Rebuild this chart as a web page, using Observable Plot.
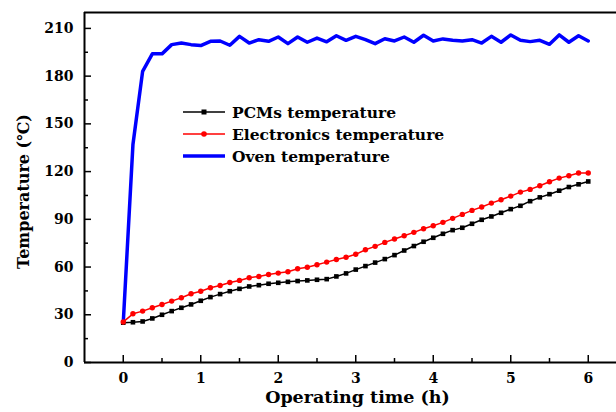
<!DOCTYPE html>
<html><head><meta charset="utf-8">
<script src="https://cdn.jsdelivr.net/npm/d3@7"></script>
<script src="https://cdn.jsdelivr.net/npm/@observablehq/plot@0.6"></script>
<style>
body{margin:0;background:#fff;}
#wrap{position:relative;width:616px;height:412px;overflow:hidden;}
#legend{position:absolute;left:183px;top:101px;font-family:"DejaVu Serif";font-weight:bold;font-size:15.5px;color:#000;}
#legend .row{display:flex;align-items:center;height:22px;}
#legend svg{margin-right:7px;}
</style></head><body><div id="wrap"></div>
<script>
const timeH = [0,0.125,0.25,0.375,0.5,0.625,0.75,0.875,1,1.125,1.25,1.375,1.5,1.625,1.75,1.875,2,2.125,2.25,2.375,2.5,2.625,2.75,2.875,3,3.125,3.25,3.375,3.5,3.625,3.75,3.875,4,4.125,4.25,4.375,4.5,4.625,4.75,4.875,5,5.125,5.25,5.375,5.5,5.625,5.75,5.875,6];
const pcmT = [25,25.3,25.8,27.7,30,32.3,34.4,36.5,38.8,41.1,43,44.8,46.3,47.8,48.6,49.5,50.1,50.7,51.2,51.6,52,52.4,54.1,56,58.4,60.6,62.8,65,67.5,70.4,73.2,75.9,78.4,80.9,83.2,84.7,87.2,89.7,91.8,94.1,96.4,98.5,101.4,103.8,105.8,108,110.3,112,113.8];
const elecT = [25.5,30.6,32.3,34.4,36.5,38.6,40.7,43.2,44.8,47,48.4,50.3,51.6,53.3,54.1,55.3,56.2,57,58.9,59.9,61.4,63.1,64.7,66.2,68,70.9,73,75.5,77.6,79.7,81.8,84.1,86,88.1,90.6,93.1,95.6,97.7,100.2,102.3,104.6,107.1,108.8,111.1,113.6,115.9,117.4,119.1,119.1];
const ovenT = [25,137,183,194,194,199.8,200.8,199.8,199.2,201.9,202.1,199.4,205,200.8,202.9,201.9,204.6,200.4,204.6,201.3,203.9,201.6,205.4,202.5,205,202.9,200.4,203.5,202.1,204.6,201.3,205.7,202.1,203.4,202.5,202.1,202.9,200.8,205,201.3,205.9,202.5,201.7,202.5,200,205.9,201.3,205.4,202.1];
const seriesNames = ["PCMs temperature","Electronics temperature","Oven temperature"];
const seriesColors = ["#000000","#ff0000","#0000ff"];
const yTicks = [0,30,60,90,120,150,180,210];
const yMinor = [15,45,75,105,135,165,195];
const xTicks = [0,1,2,3,4,5,6];
const xMinor = [0.5,1.5,2.5,3.5,4.5,5.5];
const xLabel = "Operating time (h)";
const yLabel = "Temperature (\u2103)";

const pcm = timeH.map((t,i)=>({t, v: pcmT[i]}));
const elec = timeH.map((t,i)=>({t, v: elecT[i]}));
const oven = timeH.map((t,i)=>({t, v: ovenT[i]}));

const W = 616, H = 412, mL = 84, mT = 12, mB = 50, mR = 0;
const pw = W - mL - mR, ph = H - mT - mB;

const chart = Plot.plot({
  width: W, height: H, marginLeft: mL, marginTop: mT, marginBottom: mB, marginRight: mR,
  style: {fontFamily: "DejaVu Serif", fontWeight: "bold", fontSize: "14px", color: "#000", background: "#fff", overflow: "visible"},
  x: {domain: [-0.5, -0.5 + pw / 77.5]},
  y: {domain: [0, 220]},
  marks: [
    Plot.axisY(yTicks, {tickSize: 0, tickPadding: 11, label: null, fontSize: 14}),
    Plot.axisX(xTicks, {tickSize: 0, tickPadding: 11, label: null, fontSize: 14}),
    Plot.tickY(yTicks, {y: d => d, insetRight: pw - 7, strokeWidth: 1.5, stroke: "#000"}),
    Plot.tickY(yMinor, {y: d => d, insetRight: pw - 4, strokeWidth: 1.5, stroke: "#000"}),
    Plot.tickX(xTicks, {x: d => d, insetTop: ph - 7, strokeWidth: 1.5, stroke: "#000"}),
    Plot.tickX(xMinor, {x: d => d, insetTop: ph - 4, strokeWidth: 1.5, stroke: "#000"}),
    Plot.ruleX([-0.5], {stroke: "#000", strokeWidth: 2}),
    Plot.ruleY([0], {stroke: "#000", strokeWidth: 2}),
    Plot.ruleY([220], {stroke: "#000", strokeWidth: 2}),
    Plot.line(oven, {x: "t", y: "v", stroke: seriesColors[2], strokeWidth: 3.5}),
    Plot.line(pcm, {x: "t", y: "v", stroke: seriesColors[0], strokeWidth: 1.5}),
    Plot.dot(pcm, {x: "t", y: "v", symbol: "square", r: 2.6, fill: seriesColors[0], stroke: null}),
    Plot.line(elec, {x: "t", y: "v", stroke: seriesColors[1], strokeWidth: 1.5}),
    Plot.dot(elec, {x: "t", y: "v", symbol: "circle", r: 2.7, fill: seriesColors[1], stroke: null}),
    Plot.text([xLabel], {frameAnchor: "bottom", textAnchor: "middle", dx: 7, dy: 40, fontSize: 17.5, fill: "#000"}),
    Plot.text([yLabel], {frameAnchor: "left", textAnchor: "middle", lineAnchor: "middle", rotate: -90, dx: -61, dy: 4, fontSize: 16, fill: "#000"})
  ]
});
const wrap = document.getElementById("wrap");
wrap.appendChild(chart);

const legend = document.createElement("div");
legend.id = "legend";
seriesNames.forEach((name, i) => {
  const row = document.createElement("div");
  row.className = "row";
  const sw = d3.create("svg").attr("width", 42).attr("height", 10);
  sw.append("line").attr("x1", 0).attr("x2", 42).attr("y1", 5).attr("y2", 5)
    .attr("stroke", seriesColors[i]).attr("stroke-width", i === 2 ? 3.5 : 1.5);
  if (i === 0) sw.append("rect").attr("x", 18.5).attr("y", 2.5).attr("width", 5).attr("height", 5).attr("fill", seriesColors[i]);
  if (i === 1) sw.append("circle").attr("cx", 21).attr("cy", 5).attr("r", 2.8).attr("fill", seriesColors[i]);
  row.appendChild(sw.node());
  const s = document.createElement("span");
  s.textContent = name;
  row.appendChild(s);
  legend.appendChild(row);
});
wrap.appendChild(legend);
</script>
</body></html>
